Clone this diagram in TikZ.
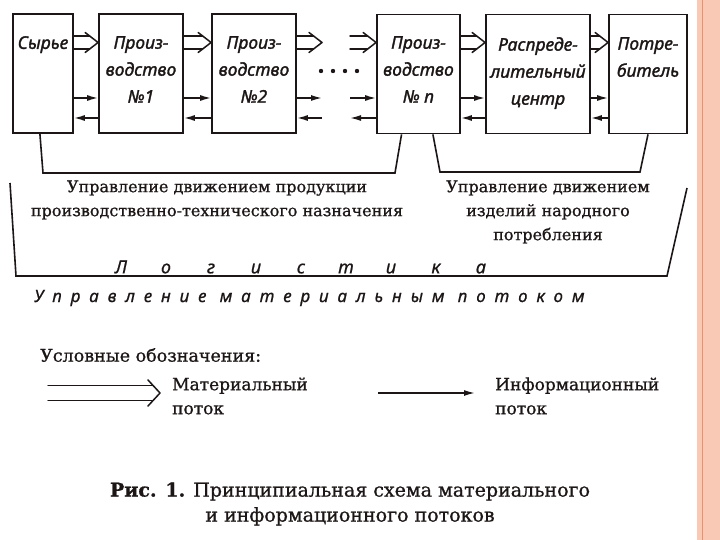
\documentclass[tikz,border=0pt]{standalone}
\usepackage{fontspec}
\setmainfont{DejaVu Serif}
\newfontfamily\heavyserif[FakeBold=0.9]{DejaVu Serif}
\newfontfamily\hand[ItalicFeatures={FakeBold=1.6}]{Noto Sans}
\newfontfamily\handlight[ItalicFeatures={FakeBold=0.8}]{Noto Sans}
\newfontfamily\handsp[LetterSpace=52,ItalicFeatures={FakeBold=0.8}]{Noto Sans}
\usetikzlibrary{arrows.meta,calc}
\definecolor{ink}{RGB}{28,22,22}
\definecolor{pinkbar}{RGB}{250,201,182}
\definecolor{orangeline}{RGB}{232,146,108}
\tikzset{
  box/.style={draw=ink, line width=1.8pt, minimum height=119pt, inner sep=0pt},
  boxtext/.style={font=\hand\itshape\fontsize{17.5}{27}\selectfont, text=ink, align=center, anchor=north, inner sep=0pt},
  info/.style={draw=ink, line width=1.5pt, -{Latex[length=11pt,width=6pt]}},
  matline/.style={draw=ink, line width=1.5pt, line cap=round, line join=round},
  bracket/.style={draw=ink, line width=1.6pt},
  serif/.style={text=ink, inner sep=0pt, font=\heavyserif\fontsize{16}{24}\selectfont, align=center},
  legtext/.style={text=ink, inner sep=0pt, font=\heavyserif\fontsize{17}{24}\selectfont, align=left, anchor=west}
}
% hollow (material flow) arrow: start, end, half body, head length, head half width
\newcommand\hollowarrow[5]{%
  \draw[matline] ($(#1)+(0,-#3)$) -- ($(#2)+({-#4*#3/#5},-#3)$);
  \draw[matline] ($(#1)+(0,#3)$) -- ($(#2)+({-#4*#3/#5},#3)$);
  \draw[matline] ($(#2)+(-#4,-#5)$) -- (#2) -- ($(#2)+(-#4,#5)$);
}
\begin{document}
\begin{tikzpicture}[x=1pt,y=-1pt]
\useasboundingbox (0,0) rectangle (720,540);
\fill[white] (0,0) rectangle (720,540);
\fill[pinkbar] (697,0) rectangle (720,540);
\draw[orangeline, line width=1pt] (702,0) -- (702,540);

% boxes
\node[box, minimum width=60pt] (s) at (43,73.5) {};
\node[box, minimum width=84pt] (p1) at (141,73.5) {};
\node[box, minimum width=84pt] (p2) at (254,73.5) {};
\node[box, minimum width=83pt] (pn) at (418.5,74) {};
\node[box, minimum width=104pt] (rc) at (538,74) {};
\node[box, minimum width=78pt] (c) at (648,74) {};

% box labels
\node[boxtext] (ts) at (s.north |- 0,36) {Сырье};
\node[boxtext] (tp1) at (p1.north |- 0,36) {Произ-\\водство\\№1};
\node[boxtext] (tp2) at (p2.north |- 0,36) {Произ-\\водство\\№2};
\node[boxtext] (tpn) at (pn.north |- 0,36) {Произ-\\водство\\№ п};
\node[boxtext] (trc) at (rc.north |- 0,37) {Распреде-\\лительный\\центр};
\node[boxtext] (tc) at (c.north |- 0,37) {Потре-\\битель};

% rows
\coordinate (m) at (0,42.5);
\coordinate (ir) at (0,98);
\coordinate (il) at (0,118);
\coordinate (d1) at (322,0);
\coordinate (d2) at (350,0);

\hollowarrow{s.east |- m}{p1.west |- m}{6.5}{13}{10}
\hollowarrow{p1.east |- m}{p2.west |- m}{6.5}{13}{10}
\hollowarrow{p2.east |- m}{d1 |- m}{6.5}{13}{10}
\hollowarrow{d2 |- m}{pn.west |- m}{6.5}{13}{10}
\hollowarrow{pn.east |- m}{rc.west |- m}{6.5}{13}{10}
\hollowarrow{rc.east |- m}{c.west |- m}{6.5}{13}{10}

\draw[info] (s.east |- ir) -- (p1.west |- ir);
\draw[info] (p1.west |- il) -- (s.east |- il);
\draw[info] (p1.east |- ir) -- (p2.west |- ir);
\draw[info] (p2.west |- il) -- (p1.east |- il);
\draw[info] (p2.east |- ir) -- (d1 |- ir);
\draw[info] (d1 |- il) -- (p2.east |- il);
\draw[info] (d2 |- ir) -- (pn.west |- ir);
\draw[info] (pn.west |- il) -- (d2 |- il);
\draw[info] (pn.east |- ir) -- (rc.west |- ir);
\draw[info] (rc.west |- il) -- (pn.east |- il);
\draw[info] (rc.east |- ir) -- (c.west |- ir);
\draw[info] (c.west |- il) -- (rc.east |- il);

% dots
\foreach \x in {321,333,345,357} \fill[ink] (\x,71) circle (2.2pt);

% brackets
\coordinate (b1) at (43,173);
\coordinate (b2) at (395,173);
\draw[bracket] ($(s.south west)!0.45!(s.south east)$) -- (b1) -- (b2) -- ($(pn.south west)!0.30!(pn.south east)$);
\coordinate (b3) at (440,172);
\coordinate (b4) at (640,172);
\draw[bracket] ($(pn.south west)!0.67!(pn.south east)$) -- (b3) -- (b4) -- (c.south);
\coordinate (g1) at (10,183);
\coordinate (g2) at (16,276);
\coordinate (g3) at (667,276);
\coordinate (g4) at (687,188);
\draw[bracket] (g1) -- (g2) -- (g3) -- (g4);

% texts
\node[serif] (t1) at (217,200) {Управление движением продукции\\производственно-технического назначения};
\node[serif] (t2) at (548,212) {Управление движением\\изделий народного\\потребления};

\node[text=ink, inner sep=0pt, font=\handlight\itshape\fontsize{18}{20}\selectfont] (log) at (301,267)
  {\makebox[45pt]{Л}\makebox[45pt]{о}\makebox[45pt]{г}\makebox[45pt]{и}\makebox[45pt]{с}\makebox[45pt]{т}\makebox[45pt]{и}\makebox[45pt]{к}\makebox[45pt]{а}};
\node[text=ink, inner sep=0pt, anchor=west, font=\handsp\itshape\fontsize{17}{20}\selectfont] (umt) at (34,298)
  {Управление материальным потоком};

% legend
\node[legtext, font=\heavyserif\fontsize{17.5}{24}\selectfont] (leg) at (40,355) {Условные обозначения:};
\coordinate (lm1) at (48,393);
\coordinate (lm2) at (160,393);
\hollowarrow{lm1}{lm2}{7.5}{12}{13}
\node[legtext] (lmt) at (172,396) {Материальный\\поток};
\coordinate (li1) at (378,393);
\coordinate (li2) at (475,393);
\draw[info] (li1) -- (li2);
\node[legtext] (lit) at (495,396) {Информационный\\поток};

% caption
\node[text=ink, inner sep=0pt, align=center, font=\heavyserif\fontsize{19}{25}\selectfont] (cap) at (350,504)
  {\textbf{Рис. 1.} Принципиальная схема материального\\и информационного потоков};
\end{tikzpicture}
\end{document}
